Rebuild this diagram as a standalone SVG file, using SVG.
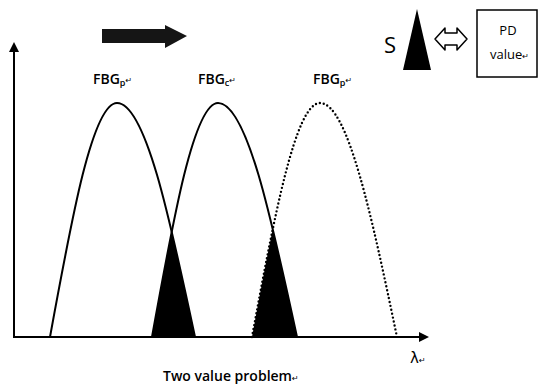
<svg xmlns="http://www.w3.org/2000/svg" width="540" height="388" viewBox="0 0 540 388">
<style>
.curve{fill:none;stroke:#000;stroke-width:2;}
.dotted{fill:none;stroke:#000;stroke-width:2.4;stroke-dasharray:0 4;stroke-linecap:round;}
.axis{fill:none;stroke:#000;stroke-width:2;}
.lbl{font-family:"Open Sans","Liberation Sans",sans-serif;font-weight:600;fill:#000;}
.reg{font-family:"Open Sans","Liberation Sans",sans-serif;font-weight:400;fill:#000;}
.sub{font-size:9px;}
.mark{font-family:"DejaVu Sans",sans-serif;font-size:8px;font-weight:normal;fill:#000;}
</style>
<defs>
<marker id="ah" markerUnits="userSpaceOnUse" markerWidth="10" markerHeight="10" refX="4" refY="5" orient="auto">
<path d="M0,0 L10,5 L0,10 Z" fill="#000"/>
</marker>
<path id="a1" d="M50,337 C71.8,217.2 92.7,103 117,103 C145.2,103 169.6,217.2 195,337 Z"/>
<path id="a2" d="M152,337 C173.5,217.2 194.1,103 218,103 C246.6,103 271.2,217.2 297,337 Z"/>
<path id="a3" d="M252,337 C274.2,217.2 295.4,103 320,103 C347.9,103 371.9,217.2 397,337 Z"/>
<clipPath id="clip1"><use href="#a1"/></clipPath>
<clipPath id="clip3"><use href="#a3"/></clipPath>
</defs>
<rect width="540" height="388" fill="#fff"/>

<g id="overlap-1"><use href="#a2" fill="#000" clip-path="url(#clip1)"/></g>
<g id="overlap-2"><use href="#a2" fill="#000" clip-path="url(#clip3)"/></g>

<g id="fbg-p1">
<path class="curve" d="M50,337 C71.8,217.2 92.7,103 117,103 C145.2,103 169.6,217.2 195,337"/>
<text class="lbl" x="93" y="84" font-size="14">FBG<tspan class="sub" dy="2">p</tspan><tspan class="mark" dy="-3">↵</tspan></text>
</g>
<g id="fbg-c">
<path class="curve" d="M152,337 C173.5,217.2 194.1,103 218,103 C246.6,103 271.2,217.2 297,337"/>
<text class="lbl" x="198" y="84" font-size="14">FBG<tspan class="sub" dy="2">c</tspan><tspan class="mark" dy="-3">↵</tspan></text>
</g>
<g id="fbg-p2">
<path class="dotted" d="M252,337 C274.2,217.2 295.4,103 320,103 C347.9,103 371.9,217.2 397,337"/>
<text class="lbl" x="313" y="84" font-size="14">FBG<tspan class="sub" dy="2">p</tspan><tspan class="mark" dy="-3">↵</tspan></text>
</g>

<g id="s-node">
<text class="reg" x="384" y="53" font-size="22">S</text>
<polygon points="417,9 431,70 403,70" fill="#000"/>
</g>
<g id="pd-value">
<rect x="477" y="10" width="60" height="67" fill="#fff" stroke="#000" stroke-width="1.5"/>
<text class="reg" x="508" y="35" font-size="13" text-anchor="middle">PD</text>
<text class="reg" x="490" y="59" font-size="13">value<tspan class="mark">↵</tspan></text>
</g>

<g id="connectors">
<line class="axis" x1="14" y1="338" x2="14" y2="48" marker-end="url(#ah)"/>
<line class="axis" x1="13" y1="337" x2="423" y2="337" marker-end="url(#ah)"/>
<polygon points="102,29 165,29 165,25 187,36 165,48 165,43 102,43" fill="#151515"/>
<polygon points="435,39 445,28 445,33 457,33 457,28 467,39 457,50 457,45 445,45 445,50" fill="#fff" stroke="#000" stroke-width="1.5" stroke-linejoin="round"/>
</g>

<g id="axis-labels">
<text x="410" y="363" font-family="'DejaVu Sans',sans-serif" font-size="15" fill="#000">λ<tspan class="mark">↵</tspan></text>
<text class="lbl" x="163" y="381" font-size="14">Two value problem<tspan class="mark">↵</tspan></text>
</g>
</svg>
